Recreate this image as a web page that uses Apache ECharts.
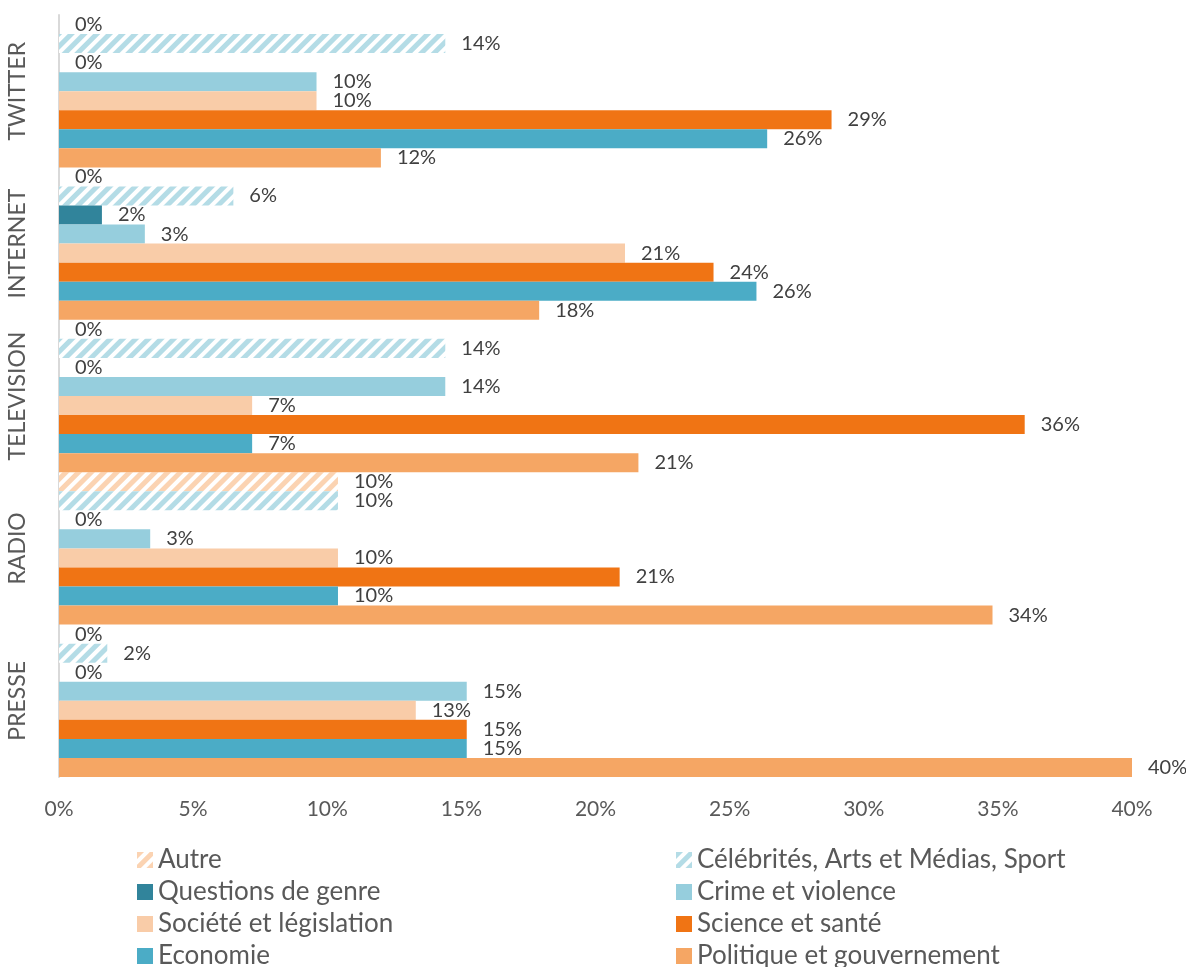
<!DOCTYPE html>
<html>
<head>
<meta charset="utf-8">
<script src="https://cdn.jsdelivr.net/npm/echarts@6/dist/echarts.min.js"></script>
<style>
html,body{margin:0;padding:0;background:#ffffff;}
#chart{width:1186px;height:967px;}
</style>
</head>
<body>
<div id="chart"></div>
<script>
// Categories (bottom to top)
const categories = ['PRESSE', 'RADIO', 'TELEVISION', 'INTERNET', 'TWITTER'];

// Series names (legend order)
const seriesNames = [
  'Autre',
  'Célébrités, Arts et Médias, Sport',
  'Questions de genre',
  'Crime et violence',
  'Société et législation',
  'Science et santé',
  'Economie',
  'Politique et gouvernement'
];

// Bar values (%), order: PRESSE, RADIO, TELEVISION, INTERNET, TWITTER
const autreValues      = [0,    10.4, 0,    0,    0];
const celebValues      = [1.8,  10.4, 14.4, 6.5,  14.4];
const genreValues      = [0,    0,    0,    1.6,  0];
const crimeValues      = [15.2, 3.4,  14.4, 3.2,  9.6];
const societeValues    = [13.3, 10.4, 7.2,  21.1, 9.6];
const scienceValues    = [15.2, 20.9, 36.0, 24.4, 28.8];
const economieValues   = [15.2, 10.4, 7.2,  26.0, 26.4];
const politiqueValues  = [40.0, 34.8, 21.6, 17.9, 12.0];

// Data labels as printed on the chart
const autreLabels      = ['0%',  '10%', '0%',  '0%',  '0%'];
const celebLabels      = ['2%',  '10%', '14%', '6%',  '14%'];
const genreLabels      = ['0%',  '0%',  '0%',  '2%',  '0%'];
const crimeLabels      = ['15%', '3%',  '14%', '3%',  '10%'];
const societeLabels    = ['13%', '10%', '7%',  '21%', '10%'];
const scienceLabels    = ['15%', '21%', '36%', '24%', '29%'];
const economieLabels   = ['15%', '10%', '7%',  '26%', '26%'];
const politiqueLabels  = ['40%', '34%', '21%', '18%', '12%'];

// X axis ticks
const xMin = 0, xMax = 40, xStep = 5;

const FONT = 'Lato';

const valueSets = [autreValues, celebValues, genreValues, crimeValues, societeValues, scienceValues, economieValues, politiqueValues];
const labelSets = [autreLabels, celebLabels, genreLabels, crimeLabels, societeLabels, scienceLabels, economieLabels, politiqueLabels];
const colors = ['#ffffff', '#ffffff', '#31849B', '#96CEDD', '#F9CCA8', '#F07414', '#4BACC6', '#F5A664'];
const decals = [
  { symbol: 'rect', symbolSize: 1, color: '#FBD3B2', dashArrayX: [1, 0], dashArrayY: [5, 4], rotation: -Math.PI / 4 },
  { symbol: 'rect', symbolSize: 1, color: '#B4DCE6', dashArrayX: [1, 0], dashArrayY: [5, 4], rotation: -Math.PI / 4 },
  null, null, null, null, null, null
];

const series = seriesNames.map((name, i) => {
  const itemStyle = { color: colors[i] };
  if (decals[i]) itemStyle.decal = decals[i];
  return {
    name: name,
    type: 'bar',
    data: valueSets[i],
    barGap: '0%',
    barCategoryGap: '0%',
    itemStyle: itemStyle,
    emphasis: { disabled: true },
    label: {
      show: true,
      position: 'right',
      distance: 16,
      fontFamily: FONT,
      fontSize: 20,
      color: '#404040',
      formatter: (p) => labelSets[i][p.dataIndex]
    }
  };
});

const legendCommon = {
  orient: 'vertical',
  top: 847,
  height: 200,
  padding: 0,
  itemWidth: 16,
  itemHeight: 16,
  itemGap: 6,
  icon: 'rect',
  selectedMode: false,
  textStyle: { fontFamily: FONT, fontSize: 26, color: '#595959' }
};

const option = {
  animation: false,
  backgroundColor: '#ffffff',
  grid: { left: 59, right: 54, top: 15, bottom: 190, containLabel: false },
  legend: [
    Object.assign({}, legendCommon, { left: 137, data: [seriesNames[0], seriesNames[2], seriesNames[4], seriesNames[6]] }),
    Object.assign({}, legendCommon, { left: 676, data: [seriesNames[1], seriesNames[3], seriesNames[5], seriesNames[7]] })
  ],
  xAxis: {
    type: 'value',
    min: xMin,
    max: xMax,
    interval: xStep,
    axisLine: { show: false },
    axisTick: { show: false },
    splitLine: { show: false },
    axisLabel: {
      formatter: '{value}%',
      fontFamily: FONT,
      fontSize: 21,
      color: '#595959',
      margin: 22
    }
  },
  yAxis: {
    type: 'category',
    data: categories,
    axisLine: { show: true, lineStyle: { color: '#D9D9D9', width: 2 } },
    axisTick: { show: false },
    splitLine: { show: false },
    axisLabel: {
      interval: 0,
      rotate: 90,
      fontFamily: FONT,
      fontSize: 23,
      color: '#595959',
      margin: 30
    }
  },
  series: series
};

const chart = echarts.init(document.getElementById('chart'), null, { renderer: 'canvas' });
chart.setOption(option);
</script>
</body>
</html>
